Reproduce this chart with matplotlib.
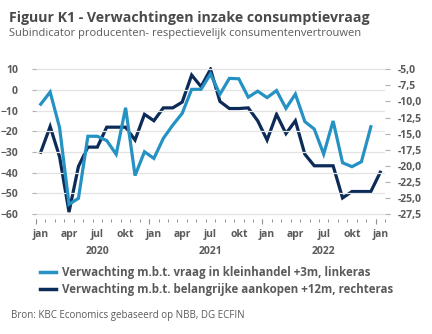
import matplotlib.pyplot as plt
import numpy as np
from matplotlib.ticker import FuncFormatter

plt.rcParams['font.family'] = ['Open Sans', 'DejaVu Sans']

# maandelijkse reeksen jan 2020 - jan 2023
maanden = ['jan', 'feb', 'mrt', 'apr', 'mei', 'jun', 'jul', 'aug', 'sep', 'okt', 'nov', 'dec'] * 3 + ['jan']
jaren = ['2020', '2021', '2022']

# linkeras: vraag in kleinhandel +3m
kleinhandel = [-6.9, -1.0, -18.2, -55.3, -52.4, -22.4, -22.4, -24.5, -31.1, -8.6, -41.4, -29.9,
               -33.1, -23.4, -17.0, -11.3, 0.3, 0.3, 7.7, -2.1, 5.6, 5.4, -3.5, -0.6,
               -3.7, -0.3, -8.9, -2.0, -15.3, -18.9, -31.0, -15.0, -35.2, -37.1, -34.7, -17.8,
               np.nan]
# rechteras: belangrijke aankopen +12m
aankopen = [-17.9, -13.9, -18.6, -27.2, -20.1, -17.1, -17.1, -14.0, -14.0, -14.0, -16.0, -12.0,
            -13.0, -11.0, -11.0, -10.1, -5.9, -7.7, -5.0, -10.0, -11.1, -11.1, -11.0, -13.0,
            -16.0, -12.0, -15.0, -13.0, -18.2, -20.0, -20.0, -20.0, -25.0, -24.0, -24.0, -24.0,
            -21.0]

licht = '#2592c3'
donker = '#0c2b58'
grijs = '#5a5a5a'

n = len(maanden)
x = np.arange(n) + 0.5

fig = plt.figure(figsize=(4.32, 3.34), dpi=100)
ax = fig.add_axes([36 / 432, 0.3437, (385 - 36) / 432, 0.4551])
ax2 = ax.twinx()

ax.plot(x, kleinhandel, color=licht, lw=2.3, solid_joinstyle='miter', zorder=3)
ax2.plot(x, aankopen, color=donker, lw=2.3, solid_joinstyle='miter', zorder=3)
# lichte lijn bovenop
ax.set_zorder(ax2.get_zorder() + 1)
ax.patch.set_visible(False)

ax.set_xlim(0, n)
ax.set_ylim(-62.5, 11)
ax2.set_ylim(-5 + (-62.5 - 10) * 22.5 / 70, -5 + (11 - 10) * 22.5 / 70)

ax.set_yticks(np.arange(-60, 11, 10))
ax2.set_yticks(np.arange(-27.5, -4.9, 2.5))
ax2.yaxis.set_major_formatter(FuncFormatter(lambda v, p: f'{v:.1f}'.replace('.', ',')))

ax2.grid(False)
ax.grid(axis='y', color='#e3e3e3', lw=0.9)
ax.set_axisbelow(True)

for a in (ax, ax2):
    for s in a.spines.values():
        s.set_visible(False)

ax.tick_params(axis='y', length=3, width=0.8, color='#b0b0b0', pad=10,
               labelsize=7.5, labelcolor=grijs)
ax2.tick_params(axis='y', length=3.5, width=0.8, color='#b0b0b0', pad=6,
                labelsize=7.5, labelcolor=grijs)
for lab in ax.get_yticklabels() + ax2.get_yticklabels():
    lab.set_fontweight('bold')

# x-as: labels midden in de maand, streepjes op de grenzen
lab_pos = [i for i in range(n) if i % 3 == 0]
ax.set_xticks(x[lab_pos])
ax.set_xticklabels([maanden[i] for i in lab_pos], fontweight='bold')
ax.set_xticks(np.arange(0, n + 1), minor=True)
ax.tick_params(axis='x', which='major', length=0, pad=7, labelsize=7.5, labelcolor=grijs)
ax.tick_params(axis='x', which='minor', length=2, width=0.7, color='#909090')
sec = ax.secondary_xaxis('bottom')
sec.set_xticks(np.arange(0, n, 12))
sec.tick_params(length=3.5, width=0.8, color='#909090', labelbottom=False)
for s in sec.spines.values():
    s.set_visible(False)

for k, j in enumerate(jaren):
    ax.text(12 * k + 6.5, -0.175, j, transform=ax.get_xaxis_transform(),
            ha='center', va='top', fontsize=7.5, fontweight='bold', color=grijs)

fig.text(9 / 432, 1 - 11 / 334, 'Figuur K1 - Verwachtingen inzake consumptievraag',
         fontsize=10.2, fontweight='bold', color='#4a4a4a', va='top')
fig.text(9 / 432, 1 - 28 / 334, 'Subindicator producenten- respectievelijk consumentenvertrouwen',
         fontsize=8.0, color=grijs, va='top')

h1, = ax.plot([], [], color=licht, lw=2.5)
h2, = ax.plot([], [], color=donker, lw=2.5)
leg = fig.legend([h1, h2],
                 ['Verwachting m.b.t. vraag in kleinhandel +3m, linkeras',
                  'Verwachting m.b.t. belangrijke aankopen +12m, rechteras'],
                 loc='upper left', bbox_to_anchor=(40 / 432, 1 - 266 / 334),
                 frameon=False, handlelength=1.4, handletextpad=0.5,
                 labelspacing=0.35, borderaxespad=0, borderpad=0,
                 prop={'size': 8.3, 'weight': 'bold'})
for t in leg.get_texts():
    t.set_color(grijs)

fig.text(11 / 432, 1 - 310 / 334, 'Bron: KBC Economics gebaseerd op NBB, DG ECFIN',
         fontsize=7.0, color=grijs, va='top')

fig.savefig('out.png', dpi=100)
